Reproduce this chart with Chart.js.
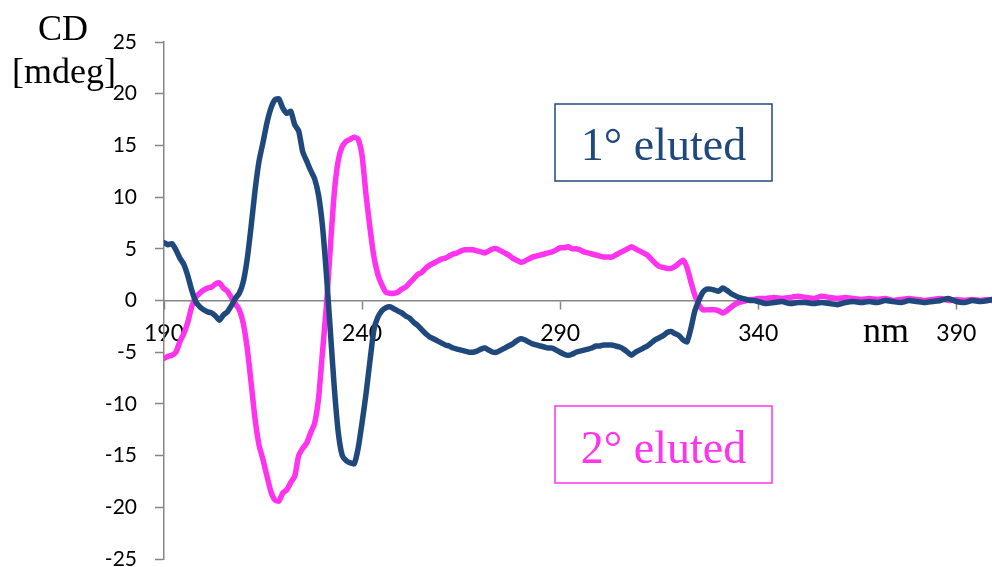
<!DOCTYPE html>
<html>
<head>
<meta charset="utf-8">
<script src="https://cdn.jsdelivr.net/npm/chart.js@4.4.1/dist/chart.umd.min.js"></script>
<style>
  html, body { margin: 0; padding: 0; background: #ffffff; }
  canvas { display: block; }
</style>
</head>
<body>
<canvas id="cd" width="992" height="567"></canvas>
<script>
// Wavelength grid (nm)
const wavelengths = [
  190,191,192,193,194,195,196,197,198,199,
  200,201,202,203,204,205,206,207,208,209,
  210,211,212,213,214,215,216,217,218,219,
  220,221,222,223,224,225,226,227,228,229,
  230,231,232,233,234,235,236,237,238,239,
  240,241,242,243,244,245,246,247,248,249,
  250,251,252,253,254,255,256,257,258,259,
  260,261,262,263,264,265,266,267,268,269,
  270,271,272,273,274,275,276,277,278,279,
  280,281,282,283,284,285,286,287,288,289,
  290,291,292,293,294,295,296,297,298,299,
  300,301,302,303,304,305,306,307,308,309,
  310,311,312,313,314,315,316,317,318,319,
  320,321,322,323,324,325,326,327,328,329,
  330,331,332,333,334,335,336,337,338,339,
  340,
  342,344,346,348,350,352,354,356,358,360,
  362,364,366,368,370,372,374,376,378,380,
  382,384,386,388,390,392,394,396,398,399
];

// CD signal of the first eluted enantiomer (mdeg)
const firstEluted = [
  5.6, 5.4, 5.5, 4.9, 4.1, 3.5, 2.4, 1.0, -0.1, -0.6,
  -0.9, -1.1, -1.2, -1.5, -1.9, -1.4, -1.1, -0.5, 0.2, 0.7,
  1.8, 4.0, 7.2, 10.7, 13.5, 15.3, 17.2, 18.6, 19.4, 19.5,
  18.6, 18.1, 18.3, 17.0, 16.4, 14.4, 13.5, 12.6, 11.8, 10.2,
  7.2, 2.5, -3.0, -8.5, -12.8, -15.0, -15.5, -15.7, -15.8, -14.3,
  -11.8, -9.0, -5.8, -2.8, -1.6, -1.0, -0.7, -0.6, -0.8, -1.0,
  -1.2, -1.5, -1.7, -2.1, -2.4, -2.8, -3.2, -3.5, -3.7, -3.9,
  -4.1, -4.3, -4.4, -4.6, -4.7, -4.8, -4.9, -5.0, -5.0, -4.9,
  -4.7, -4.6, -4.8, -5.0, -5.0, -4.8, -4.6, -4.4, -4.2, -3.9,
  -3.7, -3.8, -4.0, -4.2, -4.3, -4.4, -4.5, -4.6, -4.6, -4.8,
  -5.0, -5.2, -5.3, -5.2, -5.0, -4.9, -4.8, -4.7, -4.6, -4.4,
  -4.4, -4.3, -4.3, -4.3, -4.4, -4.5, -4.7, -5.0, -5.3, -5.0,
  -4.8, -4.6, -4.4, -4.1, -3.8, -3.6, -3.4, -3.1, -3.0, -3.2,
  -3.4, -3.8, -4.0, -2.7, -1.0, 0.0, 0.8, 1.1, 1.1, 1.0,
  0.9, 1.2, 1.0, 0.7, 0.5, 0.3, 0.2, 0.1, 0.0, 0.0,
  -0.1,
  -0.3, -0.2, -0.1, -0.3, -0.2, -0.2, -0.3, -0.2, -0.3, -0.4,
  -0.2, -0.1, -0.2, -0.1, -0.2, 0.0, -0.1, -0.2, 0.0, -0.1,
  -0.2, -0.1, 0.0, 0.2, -0.1, -0.2, 0.0, -0.1, 0.0, 0.1
];

// CD signal of the second eluted enantiomer (mdeg)
const secondEluted = [
  -5.6, -5.4, -5.3, -5.0, -4.0, -3.2, -2.1, -0.6, 0.3, 0.7,
  1.0, 1.2, 1.3, 1.6, 1.7, 1.2, 0.9, 0.3, -0.3, -0.9,
  -2.2, -4.6, -8.0, -11.5, -14.0, -15.4, -17.0, -18.5, -19.3, -19.4,
  -18.6, -18.3, -17.6, -17.0, -15.0, -14.3, -13.8, -12.8, -11.9, -9.5,
  -5.0, -0.5, 5.2, 10.5, 13.6, 14.9, 15.4, 15.6, 15.8, 15.6,
  14.0, 10.2, 7.0, 4.2, 2.5, 1.5, 0.8, 0.7, 0.7, 0.8,
  1.1, 1.3, 1.7, 2.1, 2.5, 2.7, 3.1, 3.4, 3.6, 3.8,
  4.0, 4.1, 4.3, 4.5, 4.6, 4.8, 4.9, 4.9, 4.9, 4.8,
  4.7, 4.6, 4.8, 5.0, 5.0, 4.8, 4.6, 4.4, 4.1, 3.9,
  3.7, 3.8, 4.0, 4.2, 4.3, 4.4, 4.5, 4.6, 4.7, 4.9,
  5.1, 5.1, 5.2, 5.0, 5.0, 4.9, 4.7, 4.6, 4.5, 4.4,
  4.3, 4.2, 4.2, 4.2, 4.4, 4.6, 4.8, 5.0, 5.2, 5.0,
  4.8, 4.6, 4.4, 4.0, 3.6, 3.3, 3.2, 3.1, 3.1, 3.3,
  3.6, 3.9, 3.2, 1.8, 0.5, -0.4, -0.9, -0.9, -0.9, -0.9,
  -1.0, -1.2, -1.0, -0.7, -0.4, -0.2, -0.1, 0.0, 0.1, 0.1,
  0.2,
  0.2, 0.3, 0.2, 0.3, 0.4, 0.3, 0.2, 0.4, 0.3, 0.2,
  0.3, 0.2, 0.1, 0.2, 0.1, 0.2, 0.0, 0.1, 0.2, 0.1,
  0.0, 0.1, 0.2, 0.0, 0.1, 0.0, 0.1, 0.0, 0.1, 0.0
];

// Axis ticks
const xTicks = [190, 240, 290, 340, 390];
const yTicks = [-25, -20, -15, -10, -5, 0, 5, 10, 15, 20, 25];

// Text labels
const yTitle = ['CD', '[mdeg]'];
const xTitle = 'nm';
const seriesNames = ['1° eluted', '2° eluted'];

const NAVY = '#1F497D';
const MAGENTA = '#FF33EE';
const AXIS = '#868686';

const toPoints = (xs, ys) => xs.map((x, i) => ({ x: x, y: ys[i] }));

// Axis titles and boxed series captions
const captions = {
  id: 'captions',
  afterDraw(chart) {
    const ctx = chart.ctx;
    ctx.save();
    ctx.fillStyle = '#000000';
    ctx.font = '36px "Liberation Serif", "Times New Roman", serif';
    ctx.textAlign = 'center';
    ctx.textBaseline = 'alphabetic';
    ctx.fillText(yTitle[0], 63, 40);
    ctx.fillText(yTitle[1], 64, 83);
    ctx.fillText(xTitle, 886, 342);

    const boxes = [
      { text: seriesNames[0], color: NAVY, x: 555, y: 104, w: 217, h: 77, base: 160 },
      { text: seriesNames[1], color: MAGENTA, x: 555, y: 406, w: 217, h: 77, base: 463 }
    ];
    boxes.forEach(b => {
      ctx.fillStyle = '#ffffff';
      ctx.fillRect(b.x, b.y, b.w, b.h);
      ctx.lineWidth = 1.5;
      ctx.strokeStyle = b.color;
      ctx.strokeRect(b.x, b.y, b.w, b.h);
      ctx.fillStyle = b.color;
      ctx.font = '46px "Liberation Serif", "Times New Roman", serif';
      ctx.textAlign = 'center';
      ctx.fillText(b.text, b.x + b.w / 2, b.base);
    });
    ctx.restore();
  }
};

const lineStyle = {
  borderWidth: 5.5,
  borderJoinStyle: 'round',
  borderCapStyle: 'round',
  pointRadius: 0,
  tension: 0.2,
  fill: false
};

new Chart(document.getElementById('cd'), {
  type: 'line',
  data: {
    datasets: [
      Object.assign({
        label: seriesNames[0],
        data: toPoints(wavelengths, firstEluted),
        borderColor: NAVY
      }, lineStyle),
      Object.assign({
        label: seriesNames[1],
        data: toPoints(wavelengths, secondEluted),
        borderColor: MAGENTA
      }, lineStyle)
    ]
  },
  options: {
    responsive: false,
    animation: false,
    events: [],
    layout: { padding: { top: 42, right: 0, bottom: 8, left: 0 } },
    plugins: {
      legend: { display: false },
      tooltip: { enabled: false }
    },
    scales: {
      x: {
        type: 'linear',
        min: 190,
        max: 399,
        position: { y: 0 },
        afterBuildTicks(scale) {
          scale.ticks = xTicks.map(v => ({ value: v }));
        },
        grid: {
          drawOnChartArea: false,
          drawTicks: true,
          tickLength: 8,
          tickWidth: 1.5,
          tickColor: AXIS
        },
        border: { display: true, color: AXIS, width: 1.5 },
        ticks: {
          color: '#000000',
          padding: 11,
          maxRotation: 0,
          autoSkip: false,
          font: { family: 'Lato', size: 23 }
        }
      },
      y: {
        type: 'linear',
        min: -25,
        max: 25,
        afterBuildTicks(scale) {
          scale.ticks = yTicks.map(v => ({ value: v }));
        },
        afterFit(scale) {
          scale.width = 164;
          scale.paddingTop = 0;
          scale.paddingBottom = 0;
        },
        grid: {
          drawOnChartArea: false,
          drawTicks: true,
          tickLength: 9,
          tickWidth: 1.5,
          tickColor: AXIS
        },
        border: { display: true, color: AXIS, width: 1.5 },
        ticks: {
          color: '#000000',
          padding: 18,
          font: { family: 'Lato', size: 21 }
        }
      }
    }
  },
  plugins: [captions]
});
</script>
</body>
</html>
